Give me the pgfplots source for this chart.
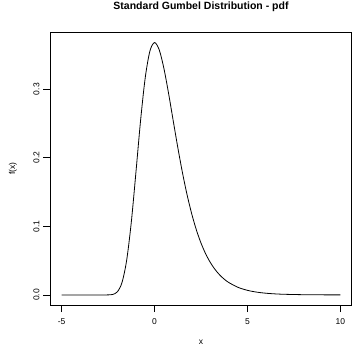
\documentclass[border=0pt]{standalone}
\usepackage{pgfplots}
\pgfplotsset{compat=1.18}
\usepackage{fontspec}
\setmainfont{Liberation Sans}
\begin{document}
\begin{tikzpicture}
\useasboundingbox (-50.5pt,-41pt) rectangle (301.5pt,305pt);
\begin{axis}[
  at={(0pt,0pt)}, anchor=south west,
  scale only axis, width=301pt, height=272.5pt,
  xmin=-5.6, xmax=10.6, ymin=-0.0147, ymax=0.3826,
  xtick={-5,0,5,10}, ytick={0,0.1,0.2,0.3},
  yticklabels={0.0,0.1,0.2,0.3},
  xticklabels={-5,0,5,10},
  tick align=outside, major tick length=7pt,
  xtick pos=bottom, ytick pos=left,
  axis line style={line width=0.8pt, black},
  every tick/.style={line width=0.8pt, black},
  tick label style={font=\fontsize{8.5}{10}\selectfont},
  xticklabel style={anchor=center, yshift=-10pt},
  yticklabel style={anchor=center, xshift=-7pt, rotate=90},
  title={\textbf{Standard Gumbel Distribution - pdf}},
  title style={font=\fontsize{10.5}{12.5}\selectfont, at={(axis description cs:0.5,1.0716)}, anchor=center, yshift=0pt},
  xlabel={x}, ylabel={f(x)},
  label style={font=\fontsize{8.5}{10}\selectfont},
  xlabel style={at={(axis description cs:0.5,-0.1358)}, anchor=center},
  ylabel style={at={(axis description cs:-0.1246,0.5)}, anchor=center, rotate=0},
  clip=false,
]
\addplot[black, line width=0.8pt, smooth, tension=0.5] coordinates {
(-5,0) (-4,0) (-3.25,0) (-3,0.00000004) (-2.75,0.0000025) (-2.5,0.000062)
(-2.25,0.000719) (-2,0.004566) (-1.75,0.01822) (-1.5,0.05071) (-1.25,0.10642)
(-1,0.17937) (-0.75,0.25491) (-0.5,0.31704) (-0.25,0.35558) (0,0.36788)
(0.25,0.35744) (0.5,0.33070) (0.75,0.29454) (1,0.25464) (1.25,0.21513)
(1.5,0.17851) (1.75,0.14605) (2,0.11821) (2.25,0.09486) (2.5,0.07561)
(2.75,0.05998) (3,0.04737) (3.25,0.03729) (3.5,0.02930) (3.75,0.02297)
(4,0.01798) (4.5,0.01098) (5,0.006693) (5.5,0.004070) (6,0.002473) (6.5,0.001502) (7,0.000911)
(8,0.000335) (9,0.000123) (10,0.0000454)
};
\end{axis}
\end{tikzpicture}
\end{document}
